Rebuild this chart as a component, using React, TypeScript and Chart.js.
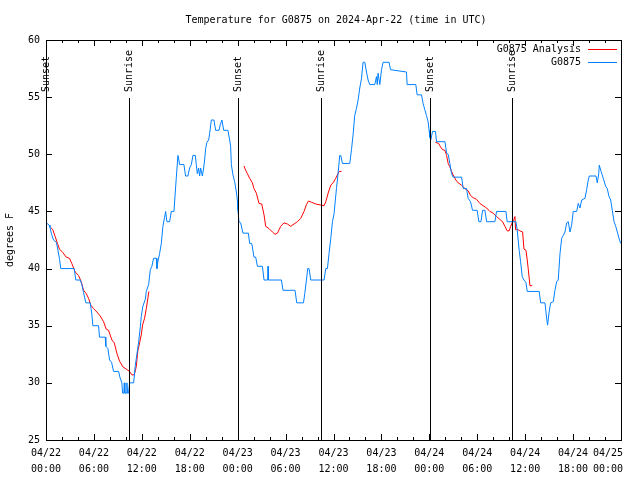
import React, { useEffect, useRef } from 'react';
import { Chart, registerables } from 'chart.js';

Chart.register(...registerables);

const chartTitle = 'Temperature for G0875 on 2024-Apr-22 (time in UTC)';
const yAxisTitle = 'degrees F';
const analysisLabel = 'G0875 Analysis';
const obsLabel = 'G0875';

const xTickLabels: string[][] = [
  ['04/22', '00:00'], ['04/22', '06:00'], ['04/22', '12:00'], ['04/22', '18:00'],
  ['04/23', '00:00'], ['04/23', '06:00'], ['04/23', '12:00'], ['04/23', '18:00'],
  ['04/24', '00:00'], ['04/24', '06:00'], ['04/24', '12:00'], ['04/24', '18:00'],
  ['04/25', '00:00'],
];
const yTickValues = [25, 30, 35, 40, 45, 50, 55, 60];

const sunEventHours = [0.0, 10.43, 24.03, 34.48, 48.05, 58.38];
const sunEventLabels = ['Sunset', 'Sunrise', 'Sunset', 'Sunrise', 'Sunset', 'Sunrise'];

// hours since 04/22 00:00 UTC
const analysisHours = [
  0.6, 0.85, 1.15, 1.44, 1.69, 2.11, 2.53, 2.95, 3.23, 3.66, 4.07, 4.41, 4.7, 5.04, 5.33, 5.61, 5.95,
  6.37, 6.79, 7.21, 7.54, 7.83, 8.25, 8.55, 8.87, 9.21, 9.63, 10.05, 10.46, 10.75, 11.05, 11.3, 11.5,
  11.72, 11.93, 12.09, 12.34, 12.56, 12.88,
  18.0,
  24.79, 25.0, 25.22, 25.5, 25.84, 26.04, 26.34, 26.67, 27.01, 27.3, 27.51, 27.92, 28.35, 28.68, 28.98,
  29.39, 29.8, 30.23, 30.64, 31.06, 31.48, 31.9, 32.31, 32.61, 32.86, 33.27, 33.78, 34.4, 34.82, 35.03,
  35.37, 35.66, 35.94, 36.28, 36.7, 37.0,
  42.0,
  48.76, 49.17, 49.4, 49.66, 49.95, 50.16, 50.36, 50.57, 50.78, 50.98, 51.32, 51.61, 52.04, 52.45, 52.86,
  53.16, 53.49, 53.92, 54.33, 54.74, 55.17, 55.58, 56.0, 56.42, 56.84, 57.17, 57.46, 57.75, 58.0, 58.18,
  58.43, 58.59, 58.72, 58.8, 59.13, 59.34, 59.68, 59.85, 60.1, 60.26, 60.38, 60.6, 60.88,
];
const analysisTemps: (number | null)[] = [
  43.6, 43.4, 42.8, 42.2, 41.7, 41.4, 41.0, 40.9, 40.45, 39.7, 39.4, 38.85, 38.1, 37.8, 37.4, 36.8, 36.5,
  36.2, 35.85, 35.35, 34.7, 34.6, 33.75, 33.5, 32.6, 31.9, 31.4, 31.2, 31.0, 30.7, 30.7, 31.4, 32.8,
  33.5, 34.2, 35.05, 35.65, 36.5, 38.0,
  null,
  48.98, 48.6, 48.3, 47.9, 47.5, 47.0, 46.6, 45.7, 45.65, 44.7, 43.7, 43.5, 43.2, 43.0, 43.1,
  43.7, 44.0, 43.9, 43.7, 43.9, 44.1, 44.4, 45.0, 45.6, 45.9, 45.8, 45.65, 45.56, 45.5, 45.85,
  46.7, 47.3, 47.5, 47.9, 48.5, 48.5,
  null,
  51.05, 50.95, 50.65, 50.4, 50.35, 49.9, 49.2, 48.9, 48.5, 48.2, 47.75, 47.5, 47.3, 47.0, 46.8,
  46.4, 46.2, 46.05, 45.7, 45.5, 45.3, 45.0, 44.85, 44.55, 44.3, 44.1, 43.7, 43.3, 43.3, 43.7,
  44.1, 44.3, 44.55, 43.4, 43.4, 43.3, 43.2, 41.7, 41.6, 40.75, 40.0, 38.5, 38.5,
];

const obsHours = [
  0.03, 0.4, 0.5, 0.7, 0.94, 1.3, 1.5, 1.7, 1.85, 3.53, 3.73, 4.29, 4.49, 4.7, 4.99, 5.54, 5.74, 5.87,
  6.58, 6.7, 7.42, 7.49, 7.75, 7.96, 8.21, 8.46, 9.09, 9.25, 9.5, 9.59, 9.75, 9.8, 9.88, 10.05, 10.13,
  10.21, 10.34, 10.46, 10.97, 11.18, 11.38, 11.59, 11.81, 11.93, 12.13, 12.43, 12.56, 12.85, 13.06, 13.26,
  13.47, 13.81, 13.89, 14.01, 14.22, 14.44, 14.64, 14.85, 14.98, 15.14, 15.48, 15.69, 16.02, 16.19, 16.32,
  16.52, 16.64, 16.73, 17.27, 17.48, 17.77, 17.98, 18.2, 18.4, 18.7, 18.82, 18.95, 19.11, 19.24, 19.36,
  19.58, 19.74, 19.86, 19.99, 20.15, 20.37, 20.49, 20.7, 21.03, 21.24, 21.66, 21.83, 22.03, 22.25, 22.78,
  23.0, 23.12, 23.21, 23.41, 23.62, 23.84, 23.96, 24.04, 24.16, 24.38, 24.66, 25.34, 25.5, 25.75, 25.84,
  26.04, 26.26, 26.47, 27.1, 27.3, 27.76, 27.8, 27.85, 29.48, 29.68, 31.18, 31.4, 32.24, 32.4, 32.61,
  32.77, 32.94, 33.15, 34.82, 35.03, 35.24, 35.44, 35.66, 35.87, 36.07, 36.37, 36.57, 36.78, 36.91, 37.12,
  38.04, 38.25, 38.45, 38.66, 38.87, 39.08, 39.29, 39.5, 39.7, 39.92, 40.13, 40.33, 40.54, 41.17, 41.38,
  41.48, 41.58, 41.8, 42.01, 42.21, 42.96, 43.14, 45.14, 45.22, 46.31, 46.47, 47.02, 47.22, 47.43, 47.64,
  47.85, 47.97, 48.06, 48.18, 48.4, 48.77, 48.9, 49.96, 50.16, 50.36, 50.57, 50.78, 50.98, 52.04, 52.24,
  52.66, 52.86, 53.16, 53.41, 53.99, 54.2, 54.46, 54.67, 54.96, 55.17, 56.21, 56.42, 57.59, 57.75, 58.84,
  59.0, 59.25, 59.43, 59.63, 59.84, 60.09, 60.26, 61.76, 61.94, 62.48, 62.69, 62.81, 62.98, 63.19, 63.52,
  63.73, 63.94, 64.14, 64.36, 64.57, 64.77, 64.98, 65.2, 65.4, 65.61, 65.82, 66.02, 66.45, 66.65, 66.86,
  67.08, 67.49, 67.7, 67.9, 68.03, 68.87, 69.03, 69.21, 69.28, 69.5, 69.78, 70.08, 70.28, 70.5, 70.71,
  70.91, 71.13, 71.34, 71.54, 71.75, 71.96,
];
const obsTemps = [
  44.0, 43.8, 43.6, 43.0, 42.5, 42.3, 41.6, 40.8, 40.0, 40.0, 39.0, 39.0, 38.6, 37.9, 37.0, 37.0, 36.0, 35.0,
  35.0, 34.0, 34.0, 33.2, 33.0, 32.0, 31.8, 31.0, 31.0, 30.5, 30.0, 29.1, 29.1, 30.0, 29.1, 29.1, 30.0,
  29.1, 29.1, 30.0, 30.0, 31.5, 32.5, 33.5, 34.9, 35.8, 36.7, 37.3, 38.0, 38.6, 39.9, 40.2,
  40.9, 40.9, 40.0, 40.6, 41.3, 42.2, 43.7, 44.5, 45.0, 44.1, 44.1, 45.0, 45.0, 46.7, 48.0,
  49.9, 49.5, 49.1, 49.1, 48.1, 48.1, 48.8, 49.1, 49.9, 49.9, 49.1, 48.3, 48.8, 48.1, 48.8,
  48.1, 48.8, 49.5, 50.5, 51.05, 51.25, 51.8, 53.0, 53.0, 52.1, 52.1, 52.6, 53.0, 52.1, 52.1,
  51.25, 50.7, 49.1, 48.2, 47.6, 46.7, 46.0, 45.1, 44.1, 44.0, 43.1, 43.1, 42.2, 42.2, 41.9,
  41.0, 41.0, 40.2, 40.2, 39.0, 39.0, 40.2, 39.0, 39.0, 38.1, 38.1, 37.0, 37.0, 37.8, 39.0,
  40.0, 40.0, 39.0, 39.0, 40.0, 40.0, 41.3, 42.65, 44.1, 44.8, 47.0, 48.3, 49.9, 49.9, 49.2,
  49.2, 50.4, 51.7, 53.4, 54.0, 54.75, 55.8, 56.6, 58.05, 58.05, 57.2, 56.5, 56.1, 56.1, 56.8,
  56.1, 57.1, 56.1, 57.4, 58.05, 58.05, 57.4, 57.2, 56.1, 56.1, 55.2, 55.2, 54.45, 53.9, 53.4,
  52.85, 52.1, 51.5, 51.25, 52.0, 52.0, 51.1, 51.1, 50.1, 50.0, 49.2, 48.3, 48.0, 48.0, 47.0,
  47.0, 46.15, 45.85, 45.1, 45.1, 44.1, 44.1, 45.1, 45.1, 44.1, 44.1, 45.0, 45.0, 44.1, 44.1,
  43.4, 41.6, 40.6, 39.3, 39.0, 38.8, 38.0, 38.0, 37.0, 37.0, 35.65, 35.05, 36.1, 37.0, 37.1,
  38.1, 38.85, 39.0, 41.3, 42.65, 42.9, 43.2, 44.0, 44.1, 43.2, 43.8, 45.0, 45.0, 45.7, 45.3,
  46.0, 46.15, 46.9, 47.75, 48.1, 48.1, 47.5, 48.3, 49.05, 48.5, 47.9, 47.2, 47.0, 46.3, 46.0,
  45.1, 44.1, 43.7, 43.2, 42.65, 42.2,
];

const FONT = '"DejaVu Sans Mono", "Liberation Mono", monospace';
const RED = '#ff0000';
const BLUE = '#0080ff';

const decorPlugin = {
  id: 'gnuplotDecor',
  afterDraw(chart: any) {
    const { ctx, chartArea } = chart;
    const xs = chart.scales.x;
    const ys = chart.scales.y;
    const { left, right, top, bottom } = chartArea;
    ctx.save();
    ctx.strokeStyle = '#000';
    ctx.lineWidth = 1;
    // border
    ctx.strokeRect(Math.round(left) + 0.5, Math.round(top) + 0.5, Math.round(right - left), Math.round(bottom - top));
    // ticks
    ctx.beginPath();
    for (let h = 0; h <= 72; h += 2) {
      const px = Math.round(xs.getPixelForValue(h)) + 0.5;
      const len = h % 6 === 0 ? 6 : 3;
      ctx.moveTo(px, bottom);
      ctx.lineTo(px, bottom - len);
      ctx.moveTo(px, top);
      ctx.lineTo(px, top + len);
    }
    for (const v of yTickValues) {
      const py = Math.round(ys.getPixelForValue(v)) + 0.5;
      ctx.moveTo(left, py);
      ctx.lineTo(left + 6, py);
      ctx.moveTo(right, py);
      ctx.lineTo(right - 6, py);
    }
    ctx.stroke();
    // sunrise / sunset lines
    ctx.beginPath();
    sunEventHours.forEach((h) => {
      const px = Math.round(xs.getPixelForValue(h)) + 0.5;
      ctx.moveTo(px, 98);
      ctx.lineTo(px, bottom);
    });
    ctx.stroke();
    ctx.fillStyle = '#000';
    ctx.font = `10px ${FONT}`;
    sunEventHours.forEach((h, i) => {
      const px = Math.round(xs.getPixelForValue(h));
      ctx.save();
      ctx.translate(px + 0.5, 92);
      ctx.rotate(-Math.PI / 2);
      ctx.textAlign = 'left';
      ctx.textBaseline = 'middle';
      ctx.fillText(sunEventLabels[i], 0, 0);
      ctx.restore();
    });
    // x tick labels (kept inside the canvas like gnuplot does)
    ctx.textAlign = 'center';
    ctx.textBaseline = 'middle';
    xTickLabels.forEach((lines, i) => {
      const px = xs.getPixelForValue(i * 6);
      const half = Math.max(...lines.map((l) => ctx.measureText(l).width)) / 2;
      const cx = Math.min(px, 623 - half);
      ctx.fillText(lines[0], cx, 453);
      ctx.fillText(lines[1], cx, 469);
    });
    // title
    ctx.fillText(chartTitle, 336, 20);
    // y axis title
    ctx.save();
    ctx.translate(10, 240);
    ctx.rotate(-Math.PI / 2);
    ctx.fillText(yAxisTitle, 0, 0);
    ctx.restore();
    // legend
    const rows = [
      { label: analysisLabel, color: RED, y: 49.5 },
      { label: obsLabel, color: BLUE, y: 62.5 },
    ];
    rows.forEach((r) => {
      ctx.fillStyle = '#000';
      ctx.textAlign = 'right';
      ctx.fillText(r.label, 581, r.y);
      ctx.strokeStyle = r.color;
      ctx.beginPath();
      ctx.moveTo(588, r.y);
      ctx.lineTo(617, r.y);
      ctx.stroke();
    });
    ctx.restore();
  },
};

export default function App() {
  const ref = useRef<HTMLCanvasElement | null>(null);
  useEffect(() => {
    if (!ref.current) return;
    const obsData = obsHours.map((h, i) => ({ x: h, y: obsTemps[i] }));
    const anaData = analysisHours.map((h, i) => ({ x: h, y: analysisTemps[i] }));
    const chart = new Chart(ref.current, {
      type: 'line',
      data: {
        datasets: [
          {
            label: obsLabel,
            data: obsData as any,
            borderColor: BLUE,
            borderWidth: 1,
            pointRadius: 0,
            tension: 0,
            fill: false,
          },
          {
            label: analysisLabel,
            data: anaData as any,
            borderColor: RED,
            borderWidth: 1,
            pointRadius: 0,
            tension: 0,
            fill: false,
            spanGaps: false,
          },
        ],
      },
      options: {
        responsive: false,
        animation: false,
        events: [],
        layout: { padding: { top: 40, right: 19, left: 0, bottom: 0 } },
        plugins: {
          legend: { display: false },
          title: { display: false },
          tooltip: { enabled: false },
        },
        scales: {
          x: {
            type: 'linear',
            min: 0,
            max: 72,
            grid: { display: false },
            border: { display: false },
            afterFit: (s: any) => { s.height = 40; },
            afterBuildTicks: (s: any) => {
              s.ticks = xTickLabels.map((_, i) => ({ value: i * 6 }));
            },
            ticks: { display: false },
          },
          y: {
            type: 'linear',
            min: 25,
            max: 60,
            grid: { display: false },
            border: { display: false },
            afterFit: (s: any) => { s.width = 46; },
            afterBuildTicks: (s: any) => {
              s.ticks = yTickValues.map((v) => ({ value: v }));
            },
            ticks: {
              padding: -2,
              color: '#000',
              font: { family: FONT, size: 10 },
            },
          },
        },
      },
      plugins: [decorPlugin],
    });
    return () => chart.destroy();
  }, []);
  return (
    <div style={{ position: 'fixed', left: 0, top: 0, width: 640, height: 480, background: '#fff' }}>
      <canvas ref={ref} width={640} height={480} style={{ display: 'block' }} />
    </div>
  );
}
